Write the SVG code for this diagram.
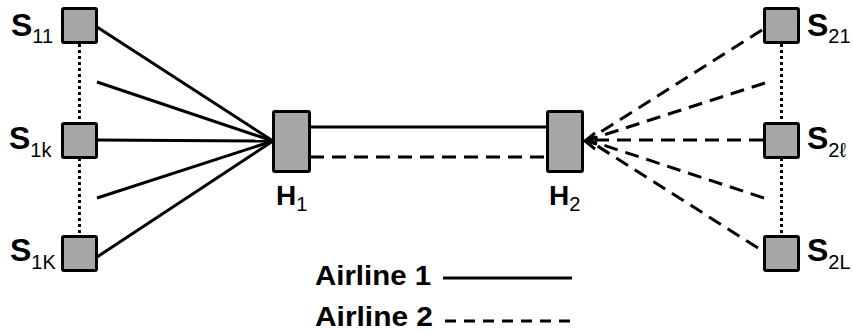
<svg xmlns="http://www.w3.org/2000/svg" width="853" height="333" viewBox="0 0 853 333">
<style>
.box{fill:#a6a6a6;stroke:#000;stroke-width:3;}
.sol{stroke:#000;stroke-width:3;fill:none;}
.dash{stroke:#000;stroke-width:3;fill:none;stroke-dasharray:14 8;}
.dot{stroke:#000;stroke-width:3;fill:none;stroke-dasharray:3 3;}
.lbl{font-family:"Liberation Sans",Arial,sans-serif;font-weight:bold;fill:#000;}
.big{font-size:32px;}
.sub{font-size:20px;font-weight:normal;}
.hl{font-size:28px;}
.hsub{font-size:20px;font-weight:normal;}
.leg{font-family:"Liberation Sans",Arial,sans-serif;font-weight:bold;font-size:28px;fill:#000;}
</style>
<rect width="853" height="333" fill="#fff"/>
<g id="connectors">
<line class="dot" x1="79.5" y1="44" x2="79.5" y2="123"/>
<line class="dot" x1="79.5" y1="158" x2="79.5" y2="236"/>
<line class="dot" x1="781.5" y1="44" x2="781.5" y2="123"/>
<line class="dot" x1="781.5" y1="158" x2="781.5" y2="236"/>
<line class="sol" x1="97" y1="27" x2="273" y2="141"/>
<line class="sol" x1="97" y1="82" x2="273" y2="141"/>
<line class="sol" x1="97" y1="140" x2="273" y2="141"/>
<line class="sol" x1="97" y1="198" x2="273" y2="141"/>
<line class="sol" x1="97" y1="257" x2="273" y2="141"/>
<line class="sol" x1="310" y1="127" x2="547" y2="127"/>
<line class="dash" x1="310" y1="157" x2="547" y2="157"/>
<line class="dash" x1="762" y1="30" x2="588" y2="140"/>
<line class="dash" x1="765" y1="83" x2="588" y2="140"/>
<line class="dash" x1="763" y1="140" x2="588" y2="140"/>
<line class="dash" x1="764" y1="198" x2="588" y2="140"/>
<line class="dash" x1="758" y1="248" x2="588" y2="140"/>
<polyline class="sol" points="595,133 585,141 595,149"/>
<line class="sol" x1="585" y1="141" x2="597" y2="138"/>
<line class="sol" x1="585" y1="141" x2="597" y2="144"/>
</g>
<g id="S11"><rect class="box" x="62.5" y="8.5" width="34" height="34" rx="1.5"/>
<text class="lbl" x="11" y="36"><tspan class="big">S</tspan><tspan class="sub" dy="7">11</tspan></text></g>
<g id="S1k"><rect class="box" x="62.5" y="123.5" width="34" height="34" rx="1.5"/>
<text class="lbl" x="9" y="149"><tspan class="big">S</tspan><tspan class="sub" dy="8">1k</tspan></text></g>
<g id="S1K"><rect class="box" x="62.5" y="236.5" width="34" height="34" rx="1.5"/>
<text class="lbl" x="10" y="261"><tspan class="big">S</tspan><tspan class="sub" dy="8">1K</tspan></text></g>
<g id="H1"><rect class="box" x="273.5" y="111.5" width="36" height="60" rx="1.5"/>
<text class="lbl" x="276" y="205"><tspan class="hl">H</tspan><tspan class="hsub" dy="6">1</tspan></text></g>
<g id="H2"><rect class="box" x="547.5" y="111.5" width="35" height="60" rx="1.5"/>
<text class="lbl" x="549" y="205"><tspan class="hl">H</tspan><tspan class="hsub" dy="6">2</tspan></text></g>
<g id="S21"><rect class="box" x="764.5" y="8.5" width="34" height="34" rx="1.5"/>
<text class="lbl" x="807" y="36"><tspan class="big">S</tspan><tspan class="sub" dy="7">21</tspan></text></g>
<g id="S2l"><rect class="box" x="764.5" y="123.5" width="34" height="34" rx="1.5"/>
<text class="lbl" x="807" y="149"><tspan class="big">S</tspan><tspan class="sub" dy="8">2ℓ</tspan></text></g>
<g id="S2L"><rect class="box" x="764.5" y="236.5" width="34" height="34" rx="1.5"/>
<text class="lbl" x="807" y="261"><tspan class="big">S</tspan><tspan class="sub" dy="8">2L</tspan></text></g>
<g id="legend">
<text class="leg" x="315" y="285" textLength="116" lengthAdjust="spacingAndGlyphs">Airline 1</text>
<line class="sol" x1="443" y1="278" x2="572" y2="278"/>
<text class="leg" x="315" y="326" textLength="118" lengthAdjust="spacingAndGlyphs">Airline 2</text>
<line class="sol" x1="445" y1="321" x2="572" y2="321" style="stroke-dasharray:11 8"/>
</g>
</svg>
